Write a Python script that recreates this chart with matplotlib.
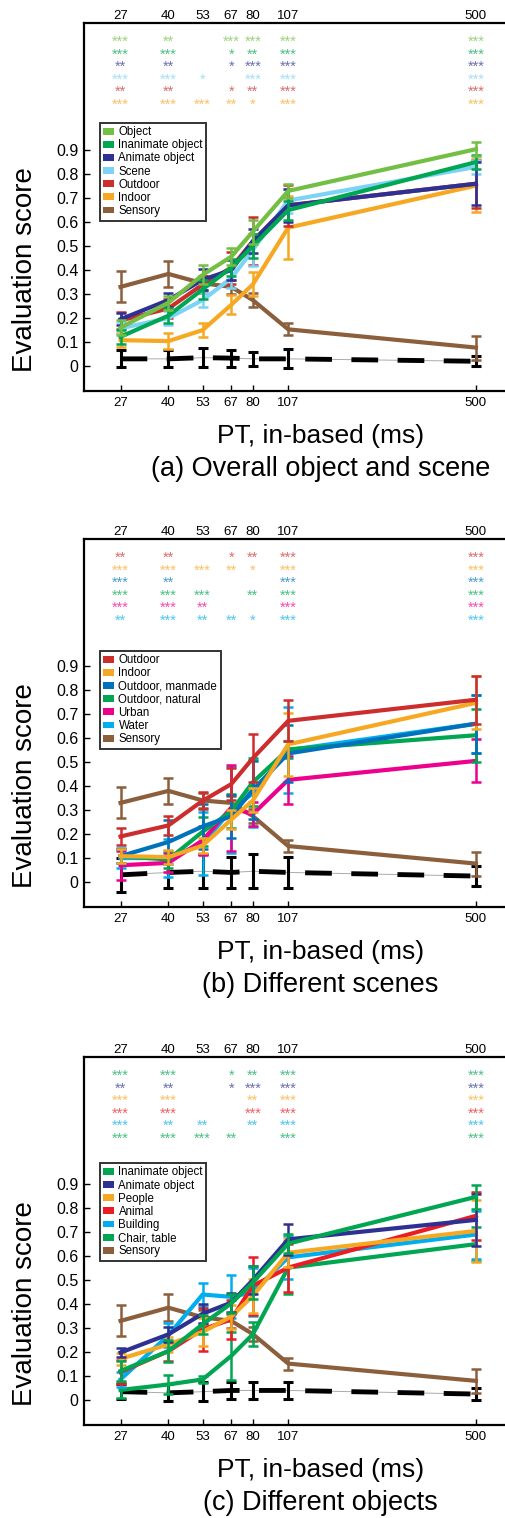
import matplotlib.pyplot as plt
from matplotlib.patches import Patch

plt.rcParams['font.family'] = ['Liberation Sans', 'DejaVu Sans']

# presentation times (ms)
pt = [27, 40, 53, 67, 80, 107, 500]
pt_labels = ['27', '40', '53', '67', '80', '107', '500']

# colours
c_object = '#72bf44'
c_inanimate = '#00a651'
c_animate = '#2e3192'
c_scene = '#7dd3f5'
c_outdoor = '#cc2e2e'
c_indoor = '#f7a823'
c_sensory = '#8b5e3c'
c_manmade = '#0072bc'
c_natural = '#00a651'
c_urban = '#ec008c'
c_water = '#00aeef'
c_people = '#f7a823'
c_animal = '#ed1c24'
c_building = '#00aeef'
c_chair = '#00a651'

# ---- (a) overall object and scene ----
a_object = [0.16, 0.264, 0.38, 0.456, 0.56, 0.73, 0.904]
a_object_err = [0.03, 0.03, 0.04, 0.035, 0.05, 0.03, 0.03]
a_inanimate = [0.122, 0.21, 0.32, 0.41, 0.50, 0.65, 0.85]
a_inanimate_err = [0.03, 0.03, 0.04, 0.035, 0.05, 0.04, 0.03]
a_animate = [0.195, 0.275, 0.36, 0.40, 0.52, 0.67, 0.76]
a_animate_err = [0.025, 0.03, 0.045, 0.04, 0.05, 0.07, 0.09]
a_scene = [0.157, 0.20, 0.275, 0.366, 0.484, 0.69, 0.83]
a_scene_err = [0.025, 0.03, 0.03, 0.04, 0.065, 0.05, 0.03]
a_outdoor = [0.19, 0.24, 0.34, 0.41, 0.52, 0.67, 0.76]
a_outdoor_err = [0.035, 0.04, 0.036, 0.066, 0.10, 0.085, 0.10]
a_indoor = [0.108, 0.104, 0.15, 0.255, 0.34, 0.577, 0.752]
a_indoor_err = [0.03, 0.035, 0.03, 0.04, 0.05, 0.13, 0.11]
a_sensory = [0.33, 0.384, 0.345, 0.33, 0.275, 0.153, 0.077]
a_sensory_err = [0.065, 0.055, 0.03, 0.03, 0.03, 0.025, 0.05]
a_chance = [0.03, 0.03, 0.035, 0.033, 0.03, 0.03, 0.02]
a_chance_err = [0.035, 0.035, 0.04, 0.035, 0.03, 0.04, 0.02]
a_stars = [
    ['***', '**', '', '***', '***', '***', '***'],
    ['***', '***', '', '*', '**', '***', '***'],
    ['**', '**', '', '*', '***', '***', '***'],
    ['***', '***', '*', '', '***', '***', '***'],
    ['**', '**', '', '*', '**', '***', '***'],
    ['***', '***', '***', '**', '*', '***', '***'],
]

# ---- (b) different scenes ----
b_outdoor = [0.19, 0.236, 0.339, 0.408, 0.516, 0.672, 0.76]
b_outdoor_err = [0.035, 0.04, 0.036, 0.066, 0.10, 0.085, 0.10]
b_indoor = [0.108, 0.104, 0.152, 0.26, 0.34, 0.574, 0.747]
b_indoor_err = [0.03, 0.03, 0.03, 0.04, 0.05, 0.13, 0.11]
b_manmade = [0.108, 0.167, 0.232, 0.274, 0.384, 0.536, 0.66]
b_manmade_err = [0.03, 0.09, 0.095, 0.09, 0.12, 0.12, 0.12]
b_natural = [0.108, 0.094, 0.21, 0.295, 0.416, 0.553, 0.612]
b_natural_err = [0.03, 0.035, 0.06, 0.07, 0.10, 0.035, 0.11]
b_urban = [0.07, 0.08, 0.174, 0.31, 0.283, 0.426, 0.505]
b_urban_err = [0.06, 0.04, 0.06, 0.18, 0.05, 0.10, 0.09]
b_water = [0.10, 0.10, 0.16, 0.30, 0.37, 0.55, 0.66]
b_water_err = [0.04, 0.08, 0.13, 0.18, 0.14, 0.18, 0.12]
b_sensory = [0.33, 0.38, 0.34, 0.33, 0.275, 0.15, 0.077]
b_sensory_err = [0.065, 0.055, 0.03, 0.03, 0.03, 0.025, 0.05]
b_chance = [0.03, 0.04, 0.045, 0.04, 0.045, 0.04, 0.025]
b_chance_err = [0.07, 0.065, 0.07, 0.065, 0.07, 0.065, 0.04]
b_stars = [
    ['**', '**', '', '*', '**', '***', '***'],
    ['***', '***', '***', '**', '*', '***', '***'],
    ['***', '**', '', '', '', '***', '***'],
    ['***', '***', '***', '', '**', '***', '***'],
    ['***', '***', '**', '', '', '***', '***'],
    ['**', '***', '**', '**', '*', '***', '***'],
]

# ---- (c) different objects ----
c_inan = [0.121, 0.204, 0.316, 0.403, 0.49, 0.652, 0.847]
c_inan_err = [0.04, 0.045, 0.04, 0.04, 0.07, 0.04, 0.05]
c_anim = [0.198, 0.274, 0.36, 0.406, 0.50, 0.67, 0.751]
c_anim_err = [0.02, 0.03, 0.04, 0.04, 0.06, 0.065, 0.11]
c_peop = [0.172, 0.232, 0.284, 0.348, 0.434, 0.614, 0.705]
c_peop_err = [0.025, 0.03, 0.06, 0.05, 0.07, 0.06, 0.13]
c_anml = [0.117, 0.204, 0.295, 0.336, 0.476, 0.552, 0.768]
c_anml_err = [0.05, 0.04, 0.09, 0.08, 0.12, 0.10, 0.10]
c_bldg = [0.086, 0.27, 0.44, 0.43, 0.45, 0.595, 0.69]
c_bldg_err = [0.03, 0.05, 0.05, 0.09, 0.10, 0.09, 0.10]
c_chtb = [0.042, 0.065, 0.086, 0.184, 0.274, 0.552, 0.65]
c_chtb_err = [0.035, 0.04, 0.015, 0.10, 0.05, 0.11, 0.07]
c_sens = [0.33, 0.385, 0.345, 0.33, 0.275, 0.152, 0.08]
c_sens_err = [0.065, 0.055, 0.03, 0.03, 0.03, 0.025, 0.05]
c_chance = [0.035, 0.03, 0.035, 0.04, 0.04, 0.04, 0.025]
c_chance_err = [0.03, 0.035, 0.04, 0.035, 0.035, 0.035, 0.025]
c_stars = [
    ['***', '***', '', '*', '**', '***', '***'],
    ['**', '**', '', '*', '***', '***', '***'],
    ['***', '***', '', '', '**', '***', '***'],
    ['***', '***', '', '', '***', '***', '***'],
    ['***', '**', '**', '', '**', '***', '***'],
    ['***', '***', '***', '**', '', '***', '***'],
]

star_rows = [1.35, 1.298, 1.246, 1.194, 1.142, 1.09]


def draw_panel(ax, series, chance, chance_err, stars, star_colors, caption, leg_top):
    # chance level: thin grey line under thick black dashes
    ax.plot(pt, chance, color='#aaaaaa', lw=0.7, zorder=2)
    ax.errorbar(pt, chance, yerr=chance_err, color='black', lw=3.5, dashes=(5.5, 4),
                elinewidth=2.2, capsize=3.5, capthick=2.2, zorder=3)
    n = len(series)
    for i, (label, color, mean, err) in enumerate(series):
        ax.errorbar(pt, mean, yerr=err, color=color, lw=3, elinewidth=1.8,
                    capsize=3.5, capthick=1.8, zorder=10 + n - i)
    for row, y, col in zip(stars, star_rows, star_colors):
        for x, s in zip(pt, row):
            if s:
                ax.text(x, y, s, color=col, alpha=0.7, fontsize=10.5,
                        ha='center', va='center')

    ax.set_xscale('log')
    ax.set_xlim(20, 640)
    ax.set_ylim(-0.104, 1.43)
    ax.set_xticks(pt)
    ax.set_xticklabels(pt_labels)
    ax.minorticks_off()
    ax.set_yticks([0, 0.1, 0.2, 0.3, 0.4, 0.5, 0.6, 0.7, 0.8, 0.9])
    ax.set_yticklabels(['0', '0.1', '0.2', '0.3', '0.4', '0.5', '0.6', '0.7', '0.8', '0.9'])
    ax.tick_params(direction='in', length=4, width=1, pad=4)
    ax.tick_params(axis='x', labelsize=9.5)
    ax.tick_params(axis='y', labelsize=11.5)
    ax.spines['right'].set_visible(False)
    for s in ['left', 'top', 'bottom']:
        ax.spines[s].set_linewidth(1.6)

    # same tick labels repeated above the frame
    top = ax.secondary_xaxis('top')
    top.set_xticks(pt)
    top.set_xticklabels(pt_labels)
    top.minorticks_off()
    top.tick_params(length=0, pad=0.5, labelsize=9.5)
    top.spines['top'].set_visible(False)

    ax.set_ylabel('Evaluation score', fontsize=20)
    ax.yaxis.set_label_coords(-0.108, 0.33)
    ax.text(0.56, -0.122, 'PT, in-based (ms)', transform=ax.transAxes,
            fontsize=19, ha='center', va='center')
    ax.text(0.56, -0.212, caption, transform=ax.transAxes,
            fontsize=19.5, ha='center', va='center')

    handles = [Patch(facecolor=c, edgecolor='none', label=l) for l, c, _, _ in series]
    leg = ax.legend(handles=handles, loc='upper left', bbox_to_anchor=(0.038, leg_top),
                    fontsize=8.3, frameon=True, fancybox=False, handlelength=0.9,
                    handleheight=0.55, handletextpad=0.4, labelspacing=0.1,
                    borderpad=0.3, borderaxespad=0)
    leg.get_frame().set_edgecolor('black')
    leg.get_frame().set_linewidth(1.4)
    leg.set_zorder(30)


fig = plt.figure(figsize=(5.06, 15.18), dpi=100)
left, width, height = 84 / 506, 1 - 84 / 506, 368 / 1518

ax_a = fig.add_axes([left, 1 - 391 / 1518, width, height])
draw_panel(ax_a,
           [('Object', c_object, a_object, a_object_err),
            ('Inanimate object', c_inanimate, a_inanimate, a_inanimate_err),
            ('Animate object', c_animate, a_animate, a_animate_err),
            ('Scene', c_scene, a_scene, a_scene_err),
            ('Outdoor', c_outdoor, a_outdoor, a_outdoor_err),
            ('Indoor', c_indoor, a_indoor, a_indoor_err),
            ('Sensory', c_sensory, a_sensory, a_sensory_err)],
           a_chance, a_chance_err, a_stars,
           [c_object, c_inanimate, c_animate, c_scene, c_outdoor, c_indoor],
           '(a) Overall object and scene', 0.729)

ax_b = fig.add_axes([left, 1 - 907 / 1518, width, height])
draw_panel(ax_b,
           [('Outdoor', c_outdoor, b_outdoor, b_outdoor_err),
            ('Indoor', c_indoor, b_indoor, b_indoor_err),
            ('Outdoor, manmade', c_manmade, b_manmade, b_manmade_err),
            ('Outdoor, natural', c_natural, b_natural, b_natural_err),
            ('Urban', c_urban, b_urban, b_urban_err),
            ('Water', c_water, b_water, b_water_err),
            ('Sensory', c_sensory, b_sensory, b_sensory_err)],
           b_chance, b_chance_err, b_stars,
           [c_outdoor, c_indoor, c_manmade, c_natural, c_urban, c_water],
           '(b) Different scenes', 0.696)

ax_c = fig.add_axes([left, 1 - 1425 / 1518, width, height])
draw_panel(ax_c,
           [('Inanimate object', c_inanimate, c_inan, c_inan_err),
            ('Animate object', c_animate, c_anim, c_anim_err),
            ('People', c_people, c_peop, c_peop_err),
            ('Animal', c_animal, c_anml, c_anml_err),
            ('Building', c_building, c_bldg, c_bldg_err),
            ('Chair, table', c_chair, c_chtb, c_chtb_err),
            ('Sensory', c_sensory, c_sens, c_sens_err)],
           c_chance, c_chance_err, c_stars,
           [c_inanimate, c_animate, c_people, c_animal, c_building, c_chair],
           '(c) Different objects', 0.712)

fig.savefig('out.png', dpi=100)
